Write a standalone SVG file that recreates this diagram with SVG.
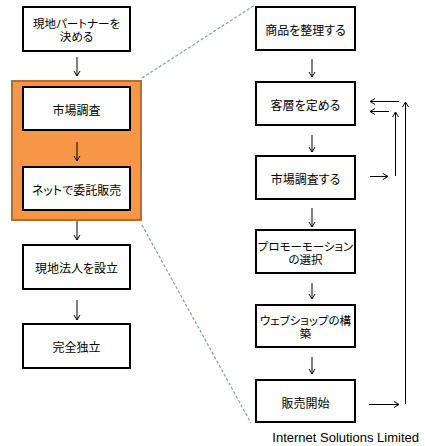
<svg xmlns="http://www.w3.org/2000/svg" width="425" height="446" viewBox="0 0 425 446">
<style>
.box{fill:#fff;stroke:#000;stroke-width:2}
.t{font-family:"Noto Sans CJK JP","Noto Sans",sans-serif;font-size:12px;fill:#000;text-anchor:middle;dominant-baseline:central;font-feature-settings:"palt"}
.t2{font-size:11.5px}
.c{fill:none;stroke:#000;stroke-width:1}
.d{fill:none;stroke:#7f9cc6;stroke-width:1.2;stroke-dasharray:3 2}
</style>
<defs>
<marker id="a" markerUnits="userSpaceOnUse" markerWidth="10" markerHeight="10" refX="0" refY="0" orient="auto" overflow="visible">
<path d="M-5,-3 L0,0 L-5,3" fill="none" stroke="#000" stroke-width="1"/>
</marker>
</defs>
<rect width="425" height="446" fill="#fff"/>
<g id="group-orange">
<rect x="12" y="81" width="129" height="139" fill="#f79646" stroke="#b66d31" stroke-width="2"/>
</g>
<g id="guides">
<line class="d" x1="142" y1="78" x2="255" y2="5"/>
<line class="d" x1="142" y1="225" x2="251" y2="423"/>
</g>
<g id="n1"><rect class="box" x="23" y="7" width="107" height="44"/><text class="t t2"><tspan x="76.5" y="23">現地パートナーを</tspan><tspan x="76.5" y="36">決める</tspan></text></g>
<g id="n2"><rect class="box" x="23" y="87" width="107" height="43"/><text class="t" x="76.5" y="109">市場調査</text></g>
<g id="n3"><rect class="box" x="23" y="167" width="107" height="43"/><text class="t" x="76.5" y="189">ネットで委託販売</text></g>
<g id="n4"><rect class="box" x="23" y="245" width="107" height="44"/><text class="t" x="76.5" y="267">現地法人を設立</text></g>
<g id="n5"><rect class="box" x="23" y="324" width="107" height="44"/><text class="t" x="76.5" y="346">完全独立</text></g>
<g id="r1"><rect class="box" x="256" y="7" width="99" height="43"/><text class="t" x="305.5" y="29">商品を整理する</text></g>
<g id="r2"><rect class="box" x="256" y="82" width="99" height="43"/><text class="t" x="305.5" y="104">客層を定める</text></g>
<g id="r3"><rect class="box" x="256" y="156" width="99" height="43"/><text class="t" x="305.5" y="178">市場調査する</text></g>
<g id="r4"><rect class="box" x="256" y="230" width="99" height="43"/><text class="t t2"><tspan x="305.5" y="246">プロモーモーション</tspan><tspan x="305.5" y="259">の選択</tspan></text></g>
<g id="r5"><rect class="box" x="256" y="305" width="99" height="42"/><text class="t t2"><tspan x="305.5" y="320">ウェブショップの構</tspan><tspan x="305.5" y="333">築</tspan></text></g>
<g id="r6"><rect class="box" x="256" y="380" width="99" height="42"/><text class="t" x="305.5" y="402">販売開始</text></g>
<g id="connectors">
<line class="c" x1="77" y1="57" x2="77" y2="76" marker-end="url(#a)"/>
<line class="c" x1="77" y1="142" x2="77" y2="161" marker-end="url(#a)"/>
<line class="c" x1="77" y1="221" x2="77" y2="240" marker-end="url(#a)"/>
<line class="c" x1="77" y1="300" x2="77" y2="320" marker-end="url(#a)"/>
<line class="c" x1="312" y1="59" x2="312" y2="77" marker-end="url(#a)"/>
<line class="c" x1="312" y1="135" x2="312" y2="152" marker-end="url(#a)"/>
<line class="c" x1="312" y1="208" x2="312" y2="227" marker-end="url(#a)"/>
<line class="c" x1="312" y1="283" x2="312" y2="299" marker-end="url(#a)"/>
<line class="c" x1="312" y1="357" x2="312" y2="374" marker-end="url(#a)"/>
<line class="c" x1="370" y1="176.5" x2="388" y2="176.5" marker-end="url(#a)"/>
<line class="c" x1="395.5" y1="176" x2="395.5" y2="112" marker-end="url(#a)"/>
<line class="c" x1="389" y1="111.5" x2="370" y2="111.5" marker-end="url(#a)"/>
<line class="c" x1="405.5" y1="404" x2="405.5" y2="102" marker-end="url(#a)"/>
<line class="c" x1="399" y1="101.5" x2="370" y2="101.5" marker-end="url(#a)"/>
<line class="c" x1="369" y1="404.5" x2="399" y2="404.5" marker-end="url(#a)"/>
</g>
<text x="419" y="442" font-family="Liberation Sans, Arial, sans-serif" font-size="13" text-anchor="end" fill="#000">Internet Solutions Limited</text>
</svg>
